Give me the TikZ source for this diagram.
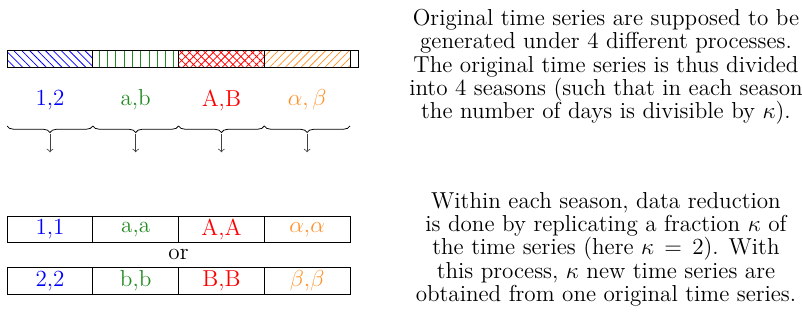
\documentclass[tikz,border=0pt]{standalone}
\usetikzlibrary{patterns.meta,decorations.pathreplacing}
\definecolor{seasongreen}{RGB}{34,139,34}
\definecolor{seasonorange}{RGB}{255,145,40}
\begin{document}
\begin{tikzpicture}[
font=\fontsize{12}{12.05}\selectfont,
seg/.style={draw, inner sep=0pt, minimum width=1.565cm, minimum height=0.31cm},
cell/.style={draw, inner sep=0pt, minimum width=1.565cm, minimum height=0.48cm},
brace/.style={decorate, decoration={brace, mirror, amplitude=0.12cm}},
arrow/.style={->, black!75},
note/.style={align=center}
]
\useasboundingbox (0,0) rectangle (14.643,-5.861);
% original series, split into seasons
\node[seg, pattern={Lines[angle=-45,distance=2.9pt]}, pattern color=blue] (s1) at (0.9125,-1.07) {};
\node[seg, pattern={Lines[angle=90,distance=4.3pt]}, pattern color=seasongreen] (s2) at (2.4775,-1.07) {};
\node[seg, pattern={Hatch[angle=45,distance=2.9pt]}, pattern color=red] (s3) at (4.0425,-1.07) {};
\node[seg, pattern={Lines[angle=45,distance=2.9pt]}, pattern color=seasonorange] (s4) at (5.6075,-1.07) {};
\node[seg, minimum width=0.15cm] (s5) at (6.465,-1.07) {};
\node[text=blue] (l1) at (0.9125,-1.826) {1,2};
\node[text=seasongreen] (l2) at (2.4775,-1.826) {a,b};
\node[text=red] (l3) at (4.0425,-1.826) {A,B};
\node[text=seasonorange] (l4) at (5.6075,-1.826) {$\alpha,\beta$};
\draw[brace] (0.13,-2.30) -- (1.695,-2.30);
\draw[brace] (1.695,-2.30) -- (3.26,-2.30);
\draw[brace] (3.26,-2.30) -- (4.825,-2.30);
\draw[brace] (4.825,-2.30) -- (6.39,-2.30);
\coordinate (t1) at (0.9125,-2.44);
\coordinate (t2) at (2.4775,-2.44);
\coordinate (t3) at (4.0425,-2.44);
\coordinate (t4) at (5.6075,-2.44);
\coordinate (e1) at (0.9125,-2.78);
\coordinate (e2) at (2.4775,-2.78);
\coordinate (e3) at (4.0425,-2.78);
\coordinate (e4) at (5.6075,-2.78);
\draw[arrow] (t1) -- (e1);
\draw[arrow] (t2) -- (e2);
\draw[arrow] (t3) -- (e3);
\draw[arrow] (t4) -- (e4);
% reduced series
\node[cell, text=blue] (a1) at (0.9125,-4.19) {1,1};
\node[cell, text=seasongreen] (a2) at (2.4775,-4.19) {a,a};
\node[cell, text=red] (a3) at (4.0425,-4.19) {A,A};
\node[cell, text=seasonorange] (a4) at (5.6075,-4.19) {$\alpha$,$\alpha$};
\node (or) at (3.26,-4.64) {or};
\node[cell, text=blue] (b1) at (0.9125,-5.13) {2,2};
\node[cell, text=seasongreen] (b2) at (2.4775,-5.13) {b,b};
\node[cell, text=red] (b3) at (4.0425,-5.13) {B,B};
\node[cell, text=seasonorange] (b4) at (5.6075,-5.13) {$\beta$,$\beta$};
% explanations
\node[note] (n1) at (11.064,-1.22) {Original time series are supposed to be\\generated under 4 different processes.\\The original time series is thus divided\\into 4 seasons (such that in each season\\the number of days is divisible by $\kappa$).};
\node[note] (n2) at (11.064,-4.55) {Within each season, data reduction\\is done by replicating a fraction $\kappa$ of\\the time series (here $\kappa\,=\,2$). With\\this process, $\kappa$ new time series are\\obtained from one original time series.};
\end{tikzpicture}
\end{document}
